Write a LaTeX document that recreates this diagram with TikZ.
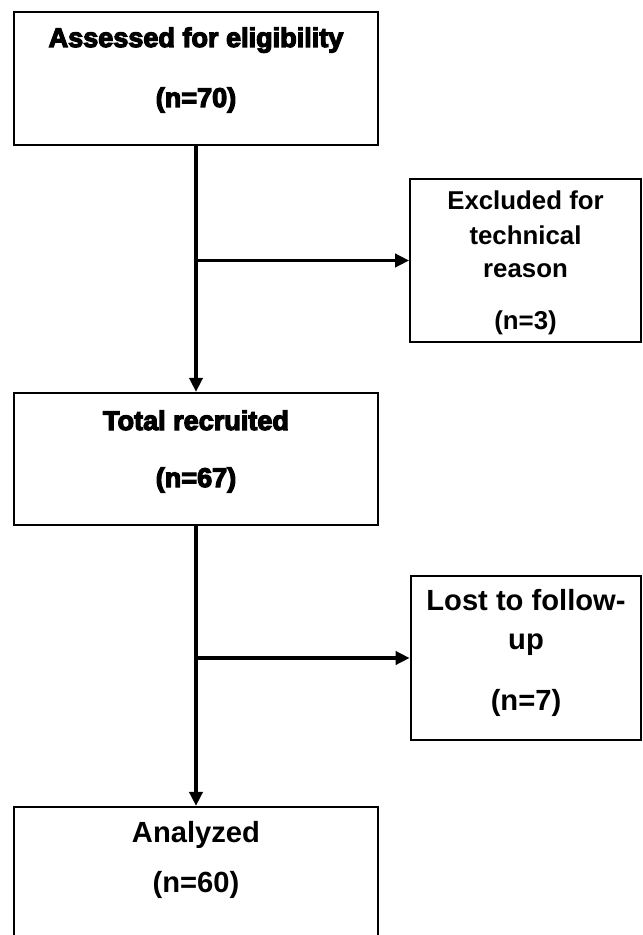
\documentclass[tikz,border=0pt]{standalone}
\usepackage{fontspec}
\setmainfont{Liberation Sans}
\newfontfamily\heavyfont[FakeBold=4.5]{Liberation Sans Bold}
\usetikzlibrary{arrows.meta}
\tikzset{
  flowbox/.style={draw, line width=1.3pt, rectangle, minimum width=7.28cm, inner sep=0pt},
  sidebox/.style={draw, line width=1.3pt, rectangle, minimum width=4.61cm, inner sep=0pt},
  heavy/.style={anchor=base, inner sep=0pt, font=\heavyfont\fontsize{15.4}{18}\selectfont},
  plain/.style={anchor=base, inner sep=0pt, font=\bfseries\fontsize{14.7}{18}\selectfont},
  large/.style={anchor=base, inner sep=0pt, font=\bfseries\fontsize{16.6}{19}\selectfont},
  arr/.style={line width=1.9pt, -{Triangle[length=8pt,width=7.5pt]}}
}
\begin{document}
\begin{tikzpicture}[x=0.02cm,y=-0.02cm]
      \path[use as bounding box, clip] (0,0) rectangle (642,935);
      % boxes
      \node[flowbox, minimum height=2.66cm] (assess) at (196,78.5) {};
      \node[sidebox, minimum height=3.26cm] (excl) at (525.5,260.5) {};
      \node[flowbox, minimum height=2.64cm] (recruit) at (196,459) {};
      \node[sidebox, minimum height=3.28cm] (lost) at (526,658) {};
      \node[flowbox, minimum height=6cm] (analyzed) at (196,957) {};
      % texts
      \node[heavy] (t1) at (196,47) {Assessed for eligibility};
      \node[heavy] (n1) at (196,107) {(n=70)};
      \node[plain] (t2a) at (525.5,210) {Excluded for};
      \node[plain] (t2b) at (525.5,245) {technical};
      \node[plain] (t2c) at (525.5,278) {reason};
      \node[plain] (n2) at (525.5,330) {(n=3)};
      \node[heavy] (t3) at (196,430) {Total recruited};
      \node[heavy] (n3) at (196,487) {(n=67)};
      \node[large] (t4a) at (526,610) {Lost to follow-};
      \node[large] (t4b) at (526,649) {up};
      \node[large] (n4) at (526,710) {(n=7)};
      \node[large] (t5) at (196,842) {Analyzed};
      \node[large] (n5) at (196,892) {(n=60)};
      % connectors
      \coordinate (j1) at (assess.south |- excl.west);
      \coordinate (j2) at (recruit.south |- lost.west);
      \draw[arr] (assess.south) -- (recruit.north);
      \draw[arr] (j1) -- (excl.west);
      \draw[arr] (recruit.south) -- (analyzed.north);
      \draw[arr] (j2) -- (lost.west);
\end{tikzpicture}
\end{document}
